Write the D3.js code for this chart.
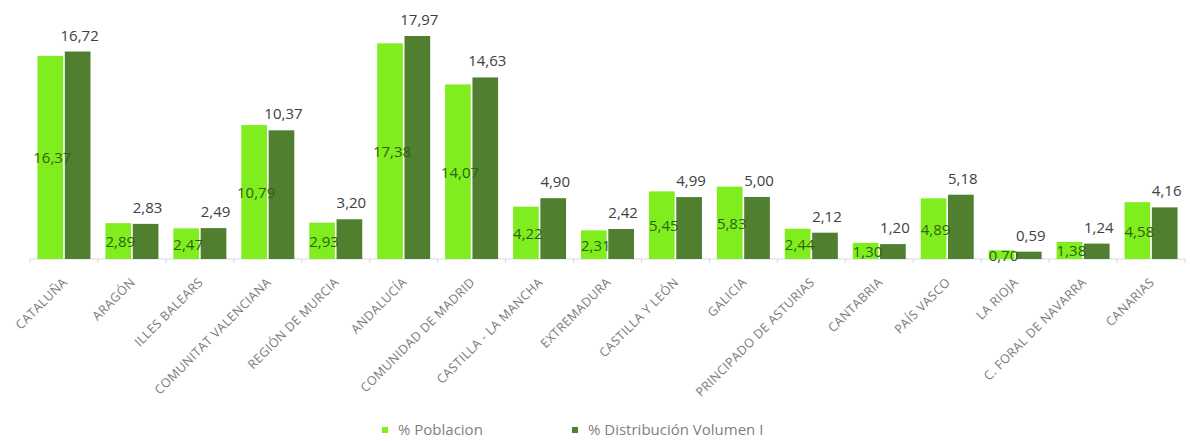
<!DOCTYPE html>
<html lang="es">
<head>
<meta charset="UTF-8">
<title>Poblacion vs Distribucion</title>
<script src="https://cdn.jsdelivr.net/npm/d3@7"></script>
<style>
  body { margin: 0; background: #fff; }
  text { font-family: "Open Sans", "DejaVu Sans", sans-serif; }
</style>
</head>
<body>
<div id="chart"></div>
<script>
// datos
const regiones = ["CATALUÑA", "ARAGÓN", "ILLES BALEARS", "COMUNITAT VALENCIANA", "REGIÓN DE MURCIA",
  "ANDALUCÍA", "COMUNIDAD DE MADRID", "CASTILLA - LA MANCHA", "EXTREMADURA", "CASTILLA Y LEÓN",
  "GALICIA", "PRINCIPADO DE ASTURIAS", "CANTABRIA", "PAÍS VASCO", "LA RIOJA",
  "C. FORAL DE NAVARRA", "CANARIAS"];
const poblacion = [16.37, 2.89, 2.47, 10.79, 2.93, 17.38, 14.07, 4.22, 2.31, 5.45, 5.83, 2.44, 1.30, 4.89, 0.70, 1.38, 4.58];
const distribucion = [16.72, 2.83, 2.49, 10.37, 3.20, 17.97, 14.63, 4.90, 2.42, 4.99, 5.00, 2.12, 1.20, 5.18, 0.59, 1.24, 4.16];
const series = ["% Poblacion", "% Distribución Volumen I"];

const width = 1190, height = 441;
const margin = {top: 36, right: 5, bottom: 182, left: 30};
const colors = ["#80ee1e", "#4f7f2f"];

const svg = d3.select("#chart").append("svg")
  .attr("width", width).attr("height", height);

const x = d3.scaleBand()
  .domain(regiones)
  .range([margin.left, width - margin.right])
  .paddingInner(0.22).paddingOuter(0.11);
const xs = d3.scaleBand().domain([0, 1]).range([0, x.bandwidth()]).paddingInner(0.06);
const y = d3.scaleLinear().domain([0, 17.97]).range([height - margin.bottom, margin.top]);
const base = y(0);
const step = x.step();
const fmt = v => v.toFixed(2).replace(".", ",");

// eje x
svg.append("line")
  .attr("x1", margin.left).attr("x2", width - margin.right)
  .attr("y1", base).attr("y2", base)
  .attr("stroke", "#d9d9e3");
svg.selectAll(".tick")
  .data(d3.range(regiones.length + 1))
  .join("line")
  .attr("x1", i => margin.left + i * step).attr("x2", i => margin.left + i * step)
  .attr("y1", base).attr("y2", base + 4)
  .attr("stroke", "#d3d3e6");

const g = svg.selectAll(".grp")
  .data(regiones.map((r, i) => ({r, vals: [poblacion[i], distribucion[i]]})))
  .join("g")
  .attr("transform", d => `translate(${x(d.r)},0)`);

g.selectAll("rect")
  .data(d => d.vals)
  .join("rect")
  .attr("x", (v, i) => xs(i))
  .attr("width", xs.bandwidth())
  .attr("y", v => y(v))
  .attr("height", v => base - y(v))
  .attr("fill", (v, i) => colors[i]);

// etiquetas poblacion (centro)
g.append("text")
  .attr("x", xs(0) + xs.bandwidth() / 2 + 2)
  .attr("y", d => (y(d.vals[0]) + base) / 2 + 6)
  .attr("text-anchor", "middle")
  .attr("font-size", 15)
  .attr("fill", "#2f6212")
  .text(d => fmt(d.vals[0]));

// etiquetas distribucion (encima)
g.append("text")
  .attr("x", xs(1) + xs.bandwidth() / 2 + 2)
  .attr("y", d => y(d.vals[1]) - 11)
  .attr("text-anchor", "middle")
  .attr("font-size", 15)
  .attr("fill", "#404040")
  .text(d => fmt(d.vals[1]));

// nombres de region
svg.selectAll(".lbl")
  .data(regiones)
  .join("text")
  .attr("transform", d => `translate(${x(d) + x.bandwidth() / 2 + 4},${base + 24}) rotate(-45)`)
  .attr("text-anchor", "end")
  .attr("font-size", 12.5)
  .attr("letter-spacing", 0.4)
  .attr("fill", "#7a7a7a")
  .text(d => d);

// leyenda
const leg = svg.append("g").attr("transform", `translate(0,435)`);
const lx = [382, 572];
series.forEach((s, i) => {
  leg.append("rect").attr("x", lx[i]).attr("y", -8).attr("width", 6).attr("height", 6).attr("fill", colors[i]);
  leg.append("text").attr("x", lx[i] + 16).attr("y", 0)
    .attr("font-size", 15).attr("fill", "#7f7f7f").text(s);
});
</script>
</body>
</html>
